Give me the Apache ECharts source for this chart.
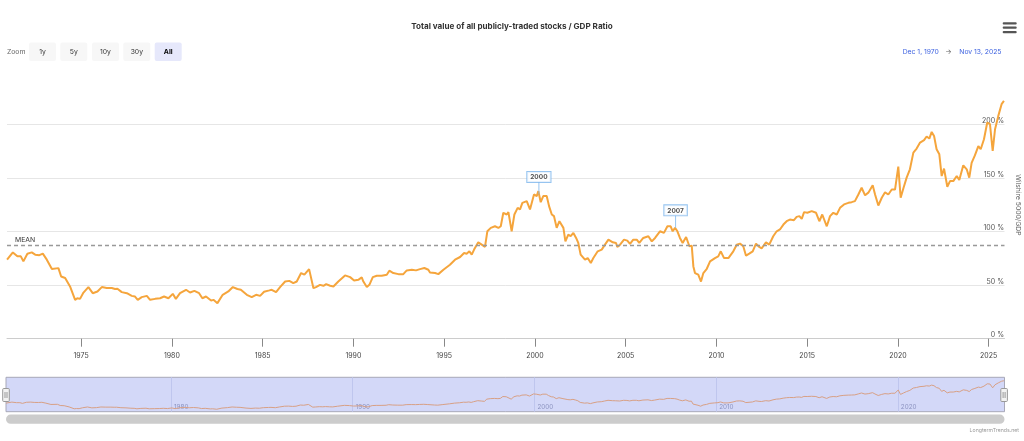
<!DOCTYPE html>
<html>
<head>
<meta charset="utf-8">
<script src="https://cdn.jsdelivr.net/npm/echarts@6/dist/echarts.min.js"></script>
<style>
html,body{margin:0;padding:0;background:#fff;}
#chart{width:1024px;height:441px;}
</style>
</head>
<body>
<div id="chart"></div>
<script>
// ---- DATA (decimal year, ratio in %) ----
const years = [
1970.92,1971.24,1971.49,1971.68,1971.82,1972.04,1972.28,1972.47,1972.70,1972.89,
1973.11,1973.39,1973.75,1973.90,1974.12,1974.39,1974.67,1974.79,1974.94,1975.13,
1975.40,1975.64,1975.90,1976.14,1976.41,1976.69,1976.87,1977.00,1977.24,1977.52,
1977.79,1977.97,1978.12,1978.34,1978.62,1978.80,1979.08,1979.35,1979.57,1979.81,
1980.05,1980.22,1980.45,1980.78,1981.00,1981.24,1981.50,1981.68,1981.88,1982.16,
1982.29,1982.51,1982.80,1983.11,1983.36,1983.61,1983.80,1984.13,1984.40,1984.64,
1984.86,1985.08,1985.37,1985.50,1985.74,1985.96,1986.24,1986.47,1986.69,1986.88,
1987.12,1987.30,1987.56,1987.80,1987.94,1988.16,1988.35,1988.50,1988.72,1988.90,
1989.17,1989.54,1989.82,1990.04,1990.27,1990.46,1990.55,1990.74,1990.88,1991.07,
1991.29,1991.56,1991.84,1991.98,1992.20,1992.48,1992.75,1992.94,1993.22,1993.45,
1993.67,1993.91,1994.13,1994.22,1994.50,1994.68,1994.96,1995.32,1995.60,1995.88,
1996.10,1996.24,1996.39,1996.52,1996.65,1996.88,1997.07,1997.25,1997.38,1997.57,
1997.80,1997.99,1998.12,1998.26,1998.45,1998.54,1998.72,1998.87,1999.05,1999.18,
1999.31,1999.42,1999.55,1999.73,1999.95,2000.10,2000.19,2000.32,2000.46,2000.65,
2000.78,2000.93,2001.05,2001.20,2001.35,2001.57,2001.68,2001.84,2001.97,2002.12,
2002.27,2002.39,2002.52,2002.76,2002.91,2003.08,2003.22,2003.46,2003.68,2003.86,
2004.05,2004.29,2004.47,2004.54,2004.69,2004.91,2005.09,2005.24,2005.42,2005.61,
2005.75,2005.97,2006.25,2006.44,2006.62,2006.89,2007.11,2007.30,2007.48,2007.59,
2007.72,2007.85,2007.99,2008.14,2008.33,2008.51,2008.64,2008.73,2008.82,2009.00,
2009.15,2009.28,2009.47,2009.65,2009.92,2010.10,2010.24,2010.42,2010.66,2010.93,
2011.12,2011.30,2011.48,2011.63,2011.81,2012.00,2012.18,2012.36,2012.49,2012.73,
2012.91,2013.13,2013.32,2013.50,2013.69,2013.87,2014.05,2014.27,2014.42,2014.57,
2014.70,2014.83,2015.01,2015.25,2015.49,2015.67,2015.83,2015.93,2016.08,2016.26,
2016.44,2016.63,2016.81,2017.03,2017.27,2017.45,2017.63,2017.82,2018.00,2018.19,
2018.37,2018.61,2018.74,2018.92,2019.11,2019.29,2019.47,2019.66,2019.84,2020.02,
2020.15,2020.31,2020.48,2020.66,2020.85,2021.03,2021.22,2021.44,2021.58,2021.73,
2021.86,2021.99,2022.13,2022.28,2022.41,2022.54,2022.72,2022.87,2023.05,2023.24,
2023.38,2023.60,2023.79,2023.93,2024.06,2024.24,2024.43,2024.56,2024.74,2024.92,
2025.07,2025.22,2025.35,2025.53,2025.71,2025.84,2025.87
];
const ratios = [
73.8,80.6,76.9,76.9,72.2,79.4,80.6,78.5,78.0,79.4,
73.8,65.0,65.9,58.1,56.7,48.8,36.3,37.8,37.2,43.1,
48.2,42.5,44.1,48.2,47.3,47.3,46.4,46.7,43.5,42.5,
40.0,39.4,36.3,38.8,40.0,36.3,37.2,37.8,39.4,37.8,
41.9,37.2,42.5,45.7,43.1,44.7,42.5,37.8,39.4,35.6,
36.3,33.2,41.0,44.1,48.2,46.4,45.7,41.0,38.8,41.0,
40.0,43.8,45.1,45.7,43.5,48.2,53.4,54.0,51.9,53.4,
61.3,59.8,65.0,47.2,48.2,50.3,49.4,50.9,49.4,48.8,
53.4,59.1,57.5,54.4,55.0,57.2,53.4,48.2,50.3,57.5,
58.8,58.8,59.8,63.5,61.3,60.3,60.3,63.8,64.4,63.8,
65.0,66.0,64.4,61.9,61.3,60.3,64.4,69.1,73.8,76.3,
80.0,79.4,81.6,78.5,83.2,90.0,87.8,85.7,100.3,103.5,
105.0,103.5,105.0,117.6,116.0,118.2,100.3,116.0,122.2,120.7,
126.9,126.0,128.5,120.7,134.7,133.2,137.8,127.5,133.2,133.2,
123.8,116.0,114.5,103.5,109.7,103.5,90.9,97.2,95.7,98.8,
94.1,89.4,78.5,73.8,75.3,70.7,75.3,81.6,83.2,87.8,
92.5,90.0,89.4,85.7,87.8,92.5,91.6,88.5,92.5,92.5,
89.4,94.1,95.7,90.9,94.1,100.3,98.8,105.0,105.0,100.3,
103.5,100.3,94.1,89.4,95.0,86.3,86.9,67.5,61.3,59.8,
53.4,61.3,65.3,72.2,75.3,76.9,81.6,75.3,75.3,81.6,
87.8,88.8,86.3,77.5,79.4,81.6,88.8,85.7,84.4,90.0,
87.8,95.7,100.3,102.0,106.6,109.7,111.3,110.7,113.8,114.5,
111.9,118.2,117.6,119.1,117.6,109.7,116.0,114.5,105.0,114.5,
117.6,116.0,122.2,125.4,126.9,127.5,128.5,134.7,141.0,133.9,
136.4,143.2,134.7,124.4,131.6,136.7,134.7,139.3,139.3,160.7,
131.6,141.0,150.4,158.2,173.8,177.6,183.2,185.4,188.8,186.9,
193.1,189.4,176.9,172.2,151.9,158.8,141.9,147.2,147.2,151.9,
148.2,161.9,158.2,150.4,164.2,171.2,179.9,176.9,186.3,201.9,
200.4,175.3,195.6,208.1,219.0,222.1,222.5
];
const meanValue = 87.2;
const xTickYears = [1975,1980,1985,1990,1995,2000,2005,2010,2015,2020,2025];
const navTickYears = [1980,1990,2000,2010,2020];
const flagYears = [2000.22, 2007.75];
const flagValues = [134.7, 103.5];
const flagLabels = ['2000', '2007'];
const xMin = 1970.917, xMax = 2025.871;

const seriesData = years.map((y, i) => [y, ratios[i]]);
const flagData = flagYears.map((y, i) => ({ name: flagLabels[i], value: [y, flagValues[i]] }));

const FONT = 'Inter, "Liberation Sans", Arial, sans-serif';
const chart = echarts.init(document.getElementById('chart'), null, { renderer: 'canvas' });

function button(x, label, selected) {
  return [
    { type: 'rect', shape: { x: x, y: 42.5, width: 27, height: 18.5, r: 2 },
      style: { fill: selected ? '#e6e8fb' : '#f7f7f7' }, silent: true },
    { type: 'text', style: { text: label, x: x + 13.5, y: 51.8, fill: selected ? '#000' : '#333',
      fontSize: 6.8, fontFamily: FONT, fontWeight: selected ? 'bold' : 'normal', align: 'center', verticalAlign: 'middle' }, silent: true }
  ];
}

const graphics = [].concat(
  [{ type: 'text', style: { text: 'Zoom', x: 7, y: 51.8, fill: '#666', fontSize: 6.8, fontFamily: FONT, align: 'left', verticalAlign: 'middle' } }],
  button(29, '1y', false), button(60.3, '5y', false), button(92, '10y', false),
  button(123.3, '30y', false), button(154.7, 'All', true),
  [
    { type: 'text', style: { text: 'Dec 1, 1970', x: 902.7, y: 51.8, fill: '#3d62e0', fontSize: 6.8, fontFamily: FONT, align: 'left', verticalAlign: 'middle' } },
    { type: 'text', style: { text: '\u2192', x: 948.5, y: 51.8, fill: '#666', fontSize: 6.8, fontFamily: FONT, align: 'center', verticalAlign: 'middle' } },
    { type: 'text', style: { text: 'Nov 13, 2025', x: 959.3, y: 51.8, fill: '#3d62e0', fontSize: 6.8, fontFamily: FONT, align: 'left', verticalAlign: 'middle' } },
    // menu icon
    { type: 'rect', shape: { x: 1002.7, y: 22.2, width: 14, height: 2.2, r: 1 }, style: { fill: '#555' } },
    { type: 'rect', shape: { x: 1002.7, y: 26.6, width: 14, height: 2.2, r: 1 }, style: { fill: '#555' } },
    { type: 'rect', shape: { x: 1002.7, y: 31.0, width: 14, height: 2.2, r: 1 }, style: { fill: '#555' } },
    // navigator handles
    { type: 'rect', shape: { x: 2.7, y: 388.5, width: 6.6, height: 13, r: 1 }, style: { fill: '#f2f2f2', stroke: '#999', lineWidth: 1 }, z: 100 },
    { type: 'line', shape: { x1: 5, y1: 392, x2: 5, y2: 398 }, style: { stroke: '#999', lineWidth: 1 }, z: 101 },
    { type: 'line', shape: { x1: 7, y1: 392, x2: 7, y2: 398 }, style: { stroke: '#999', lineWidth: 1 }, z: 101 },
    { type: 'rect', shape: { x: 1000.8, y: 388.5, width: 6.6, height: 13, r: 1 }, style: { fill: '#f2f2f2', stroke: '#999', lineWidth: 1 }, z: 100 },
    { type: 'line', shape: { x1: 1003.1, y1: 392, x2: 1003.1, y2: 398 }, style: { stroke: '#999', lineWidth: 1 }, z: 101 },
    { type: 'line', shape: { x1: 1005.1, y1: 392, x2: 1005.1, y2: 398 }, style: { stroke: '#999', lineWidth: 1 }, z: 101 },
    // scrollbar
    { type: 'rect', shape: { x: 6, y: 414.6, width: 998.5, height: 9.2, r: 4.6 }, style: { fill: '#cccccc' } },
    // credits
    { type: 'text', style: { text: 'LongtermTrends.net', x: 1019, y: 430, fill: '#999', fontSize: 5.2, fontFamily: FONT, align: 'right', verticalAlign: 'middle' } }
  ]
);

const option = {
  animation: false,
  backgroundColor: '#ffffff',
  textStyle: { fontFamily: FONT },
  title: {
    text: 'Total value of all publicly-traded stocks / GDP Ratio',
    left: 'center', top: 17.5,
    textStyle: { fontSize: 8.1, fontWeight: 'bold', color: '#333', fontFamily: FONT }
  },
  grid: [
    { left: 7, right: 19.5, top: 71, bottom: 102.3, containLabel: false, outerBoundsMode: 'none' },
    { left: 6, right: 19.5, top: 377.3, height: 34.4, show: true, backgroundColor: '#d3d8f8', borderColor: '#a8a8b8', borderWidth: 1, outerBoundsMode: 'none' }
  ],
  xAxis: [
    {
      type: 'value', gridIndex: 0, min: xMin, max: xMax,
      axisLine: { show: true, lineStyle: { color: '#cccccc', width: 1 } },
      axisTick: { show: true, length: 8, customValues: xTickYears, lineStyle: { color: '#888' } },
      axisLabel: { show: true, customValues: xTickYears, color: '#444', fontSize: 7, margin: 14, formatter: v => String(Math.round(v)) },
      splitLine: { show: false }
    },
    {
      type: 'value', gridIndex: 1, min: xMin, max: xMax,
      axisLine: { show: false },
      axisTick: { show: false, customValues: navTickYears },
      axisLabel: { show: true, inside: true, customValues: navTickYears, color: '#8c93c0', fontSize: 6.3,
        align: 'left', padding: [0, 0, 0, 3], margin: 1.5, verticalAlign: 'bottom', formatter: v => String(Math.round(v)) },
      splitLine: { show: true, lineStyle: { color: '#bfc6ee', width: 1 } }
    }
  ],
  yAxis: [
    {
      type: 'value', gridIndex: 0, position: 'right', min: 0, max: 250, interval: 50,
      name: 'Wilshire 5000/GDP', nameLocation: 'middle', nameRotate: -90, nameGap: 7.5,
      nameTextStyle: { color: '#666', fontSize: 6.8 },
      axisLine: { show: false }, axisTick: { show: false },
      axisLabel: { inside: true, margin: 0.5, showMaxLabel: false, formatter: '{value} %', color: '#555', fontSize: 7,
        verticalAlign: 'bottom', padding: [0, 0, 0, 0] },
      splitLine: { show: true, showMaxLine: false, lineStyle: { color: '#e6e6e6', width: 1 } }
    },
    { type: 'value', gridIndex: 1, min: 17, max: 245, show: false, splitLine: { show: false } }
  ],
  series: [
    {
      type: 'line', xAxisIndex: 0, yAxisIndex: 0, data: seriesData,
      showSymbol: false, symbol: 'none', smooth: false,
      lineStyle: { color: '#f5a53c', width: 2 }, z: 3,
      markLine: {
        silent: true, symbol: 'none',
        lineStyle: { color: '#999', type: [4, 3], width: 1.3 },
        label: { show: true, position: 'insideStartTop', formatter: 'MEAN', color: '#333', fontSize: 6.8, distance: [8, 2] },
        data: [{ yAxis: meanValue }]
      }
    },
    {
      type: 'scatter', xAxisIndex: 0, yAxisIndex: 0, data: flagData,
      symbol: 'rect', symbolSize: [1, 12.5], symbolOffset: [0, -6.25],
      itemStyle: { color: '#7cb5ec' }, z: 5, silent: true,
      label: { show: true, position: 'top', distance: 0, formatter: p => p.name,
        backgroundColor: '#fff', borderColor: '#7cb5ec', borderWidth: 1, padding: [2, 3, 1, 3],
        fontSize: 6.5, fontWeight: 'bold', color: '#222' }
    },
    {
      type: 'line', xAxisIndex: 1, yAxisIndex: 1, data: seriesData,
      showSymbol: false, symbol: 'none', silent: true,
      lineStyle: { color: '#d8a085', width: 1 }
    }
  ],
  graphic: graphics
};
chart.setOption(option);
</script>
</body>
</html>
